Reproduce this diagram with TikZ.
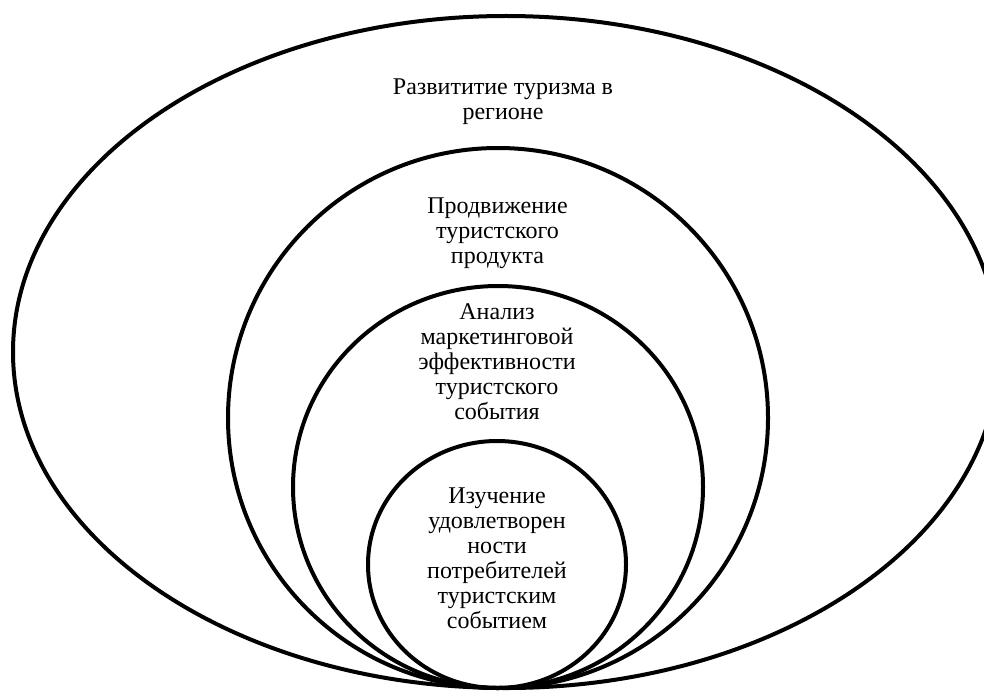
\documentclass[tikz,border=0pt]{standalone}
\usepackage{fontspec}
\setmainfont{Liberation Serif}
\begin{document}
\begin{tikzpicture}[x=1pt,y=-1pt,
  ring/.style={draw=black,line width=4pt},
  lbl/.style={align=center,font=\fontsize{24}{25}\selectfont,inner sep=0pt}]
\useasboundingbox (0,0) rectangle (984,690);
\fill[white] (0,0) rectangle (984,690);
\begin{scope}
\clip (0,0) rectangle (984,690);
\draw[ring] (506,352) ellipse [x radius=493, y radius=336];
\end{scope}
\draw[ring] (498,418) ellipse [x radius=270, y radius=270];
\draw[ring] (498,487) ellipse [x radius=205, y radius=201];
\draw[ring] (497,564.5) ellipse [x radius=129, y radius=123.5];
\node[lbl] (t1) at (503,102) {Развититие туризма в\\регионе};
\node[lbl] (t2) at (497.5,233) {Продвижение\\туристского\\продукта};
\node[lbl] (t3) at (497,362) {Анализ\\маркетинговой\\эффективности\\туристского\\события};
\node[lbl] (t4) at (497,558) {Изучение\\удовлетворен\\ности\\потребителей\\туристским\\событием};
\end{tikzpicture}
\end{document}
